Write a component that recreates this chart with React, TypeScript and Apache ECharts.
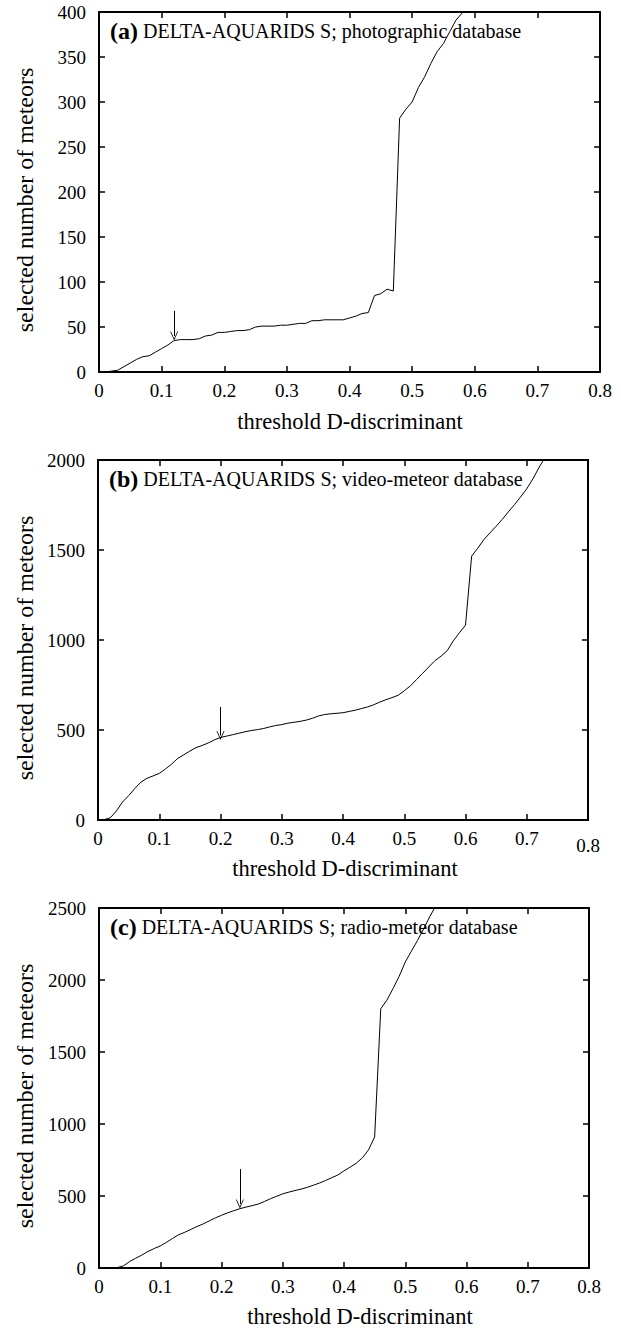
import React, { useEffect, useRef } from "react";
import * as echarts from "echarts";

// ---------- data ----------
const dA = [0, 0.01, 0.02, 0.03, 0.04, 0.05, 0.06, 0.07, 0.08, 0.09, 0.1, 0.11, 0.12, 0.13, 0.14, 0.15, 0.16, 0.17, 0.18, 0.19, 0.2, 0.21, 0.22, 0.23, 0.24, 0.25, 0.26, 0.27, 0.28, 0.29, 0.3, 0.31, 0.32, 0.33, 0.34, 0.35, 0.36, 0.37, 0.38, 0.39, 0.4, 0.41, 0.42, 0.43, 0.44, 0.45, 0.46, 0.47, 0.48, 0.49, 0.5, 0.51, 0.52, 0.53, 0.54, 0.55, 0.56, 0.57, 0.58, 0.59];
const nA = [0, 0, 1, 2, 6, 10, 14, 17, 18, 22, 26, 30, 35, 36, 36, 36, 37, 40, 41, 44, 44, 45, 46, 46, 47, 50, 51, 51, 51, 52, 52, 53, 54, 54, 57, 57, 58, 58, 58, 58, 60, 62, 65, 66, 85, 87, 92, 90, 282, 292, 300, 316, 328, 343, 356, 365, 378, 391, 399, 412];

const dB = [0, 0.01, 0.02, 0.03, 0.04, 0.05, 0.06, 0.07, 0.08, 0.09, 0.1, 0.11, 0.12, 0.13, 0.14, 0.15, 0.16, 0.17, 0.18, 0.19, 0.2, 0.21, 0.22, 0.23, 0.24, 0.25, 0.26, 0.27, 0.28, 0.29, 0.3, 0.31, 0.32, 0.33, 0.34, 0.35, 0.36, 0.37, 0.38, 0.39, 0.4, 0.41, 0.42, 0.43, 0.44, 0.45, 0.46, 0.47, 0.48, 0.49, 0.5, 0.51, 0.52, 0.53, 0.54, 0.55, 0.56, 0.57, 0.58, 0.59, 0.6, 0.61, 0.62, 0.63, 0.64, 0.65, 0.66, 0.67, 0.68, 0.69, 0.7, 0.71, 0.72, 0.73];
const nB = [0, 2, 12, 50, 100, 135, 175, 210, 232, 245, 259, 283, 310, 342, 362, 383, 402, 414, 428, 445, 459, 466, 474, 482, 490, 497, 502, 508, 517, 525, 530, 538, 543, 548, 555, 565, 578, 586, 590, 593, 596, 603, 610, 619, 628, 640, 655, 668, 680, 693, 718, 745, 780, 815, 850, 885, 910, 940, 995, 1040, 1082, 1466, 1510, 1558, 1595, 1632, 1670, 1712, 1752, 1795, 1840, 1895, 1958, 2015];

const dC = [0, 0.01, 0.02, 0.03, 0.04, 0.05, 0.06, 0.07, 0.08, 0.09, 0.1, 0.11, 0.12, 0.13, 0.14, 0.15, 0.16, 0.17, 0.18, 0.19, 0.2, 0.21, 0.22, 0.23, 0.24, 0.25, 0.26, 0.27, 0.28, 0.29, 0.3, 0.31, 0.32, 0.33, 0.34, 0.35, 0.36, 0.37, 0.38, 0.39, 0.4, 0.41, 0.42, 0.43, 0.44, 0.45, 0.46, 0.47, 0.48, 0.49, 0.5, 0.51, 0.52, 0.53, 0.54, 0.55];
const nC = [0, 0, 0, 3, 15, 45, 68, 90, 115, 135, 153, 178, 205, 231, 248, 268, 288, 306, 327, 348, 366, 383, 398, 412, 423, 433, 444, 462, 481, 498, 515, 527, 538, 548, 560, 575, 590, 608, 627, 646, 675, 700, 728, 765, 820, 910, 1800, 1860, 1940, 2025, 2125, 2200, 2275, 2355, 2440, 2515];

const panelTags = ["(a)", "(b)", "(c)"];
const panelTitles = [
  "DELTA-AQUARIDS S; photographic database",
  "DELTA-AQUARIDS S; video-meteor database",
  "DELTA-AQUARIDS S; radio-meteor database",
];
const yMax = [400, 2000, 2500];
const yStep = [50, 500, 500];
const xMax = 0.8;
const xStep = 0.1;

// arrows: x position, top value, tip value
const arrowX = [0.12, 0.2, 0.23];
const arrowTop = [68, 628, 687];
const arrowTip = [40, 470, 445];

const xName = "threshold D-discriminant";
const yName = "selected number of meteors";

// ---------- layout ----------
const FONT = "'Liberation Serif', 'Times New Roman', serif";
const grids = [
  { left: 99, top: 12, width: 501, height: 360 },
  { left: 98, top: 460, width: 490, height: 360 },
  { left: 99, top: 908, width: 490, height: 360 },
];
const xNamePos = [
  [350, 421],
  [345, 868],
  [360, 1316],
];

export default function App() {
  const ref = useRef<HTMLDivElement>(null);
  useEffect(() => {
    if (!ref.current) return;
    const chart = echarts.init(ref.current, null, { renderer: "svg" });
    const series: any[] = [];
    const xAxes: any[] = [];
    const yAxes: any[] = [];
    const graphics: any[] = [];
    const datas = [
      dA.map((d, i) => [d, nA[i]]),
      dB.map((d, i) => [d, nB[i]]),
      dC.map((d, i) => [d, nC[i]]),
    ];
    const axisLine = { show: true, onZero: false, lineStyle: { color: "#000", width: 2 } };
    const tick = { show: true, inside: true, length: 6, lineStyle: { color: "#000", width: 1.5 } };
    grids.forEach((g, i) => {
      xAxes.push({
        type: "value",
        gridIndex: i,
        min: 0,
        max: xMax,
        interval: xStep,
        position: "bottom",
        axisLine,
        axisTick: tick,
        splitLine: { show: false },
        axisLabel: {
          color: "#000",
          fontFamily: FONT,
          fontSize: 19,
          margin: 9,
          formatter: (v: number) => {
            const s = String(Math.round(v * 10) / 10);
            if (i === 1 && Math.abs(v - 0.8) < 1e-6) return "{lo|" + s + "}";
            return s;
          },
          rich: { lo: { padding: [7, 0, 0, 0], fontFamily: FONT, fontSize: 19, color: "#000" } },
        },
      });
      xAxes.push({
        type: "value",
        gridIndex: i,
        min: 0,
        max: xMax,
        interval: xStep,
        position: "top",
        axisLine,
        axisTick: tick,
        splitLine: { show: false },
        axisLabel: { show: false },
      });
      yAxes.push({
        type: "value",
        gridIndex: i,
        min: 0,
        max: yMax[i],
        interval: yStep[i],
        position: "left",
        axisLine,
        axisTick: tick,
        splitLine: { show: false },
        axisLabel: {
          color: "#000",
          fontFamily: FONT,
          fontSize: 19,
          margin: 13,
          formatter: (v: number) => String(v),
        },
      });
      yAxes.push({
        type: "value",
        gridIndex: i,
        min: 0,
        max: yMax[i],
        interval: yStep[i],
        position: "right",
        axisLine,
        axisTick: tick,
        splitLine: { show: false },
        axisLabel: { show: false },
      });
      series.push({
        type: "line",
        xAxisIndex: i * 2,
        yAxisIndex: i * 2,
        data: datas[i],
        showSymbol: false,
        symbol: "none",
        clip: true,
        lineStyle: { color: "#000", width: 1 },
        silent: true,
        markLine: {
          silent: true,
          symbol: ["none", "path://M0,10 L5,0 L10,10 L9,10 L5,2.2 L1,10 Z"],
          symbolSize: [8, 9],
          label: { show: false },
          lineStyle: { color: "#000", width: 1, type: "solid" },
          data: [[{ coord: [arrowX[i], arrowTop[i]] }, { coord: [arrowX[i], arrowTip[i]] }]],
        },
      });
      graphics.push({
        type: "text",
        left: g.left + 11,
        top: g.top + 7,
        style: {
          text: "{b|" + panelTags[i] + "} " + panelTitles[i],
          font: `20px ${FONT}`,
          fill: "#000",
          rich: {
            b: { fontFamily: FONT, fontSize: 24, fontWeight: "bold", fill: "#000" },
          },
        },
      });
      graphics.push({
        type: "text",
        x: 25,
        y: g.top + g.height / 2 + 8,
        rotation: Math.PI / 2,
        style: {
          text: yName,
          font: `24px ${FONT}`,
          fill: "#000",
          align: "center",
          verticalAlign: "middle",
        },
      });
      graphics.push({
        type: "text",
        x: xNamePos[i][0],
        y: xNamePos[i][1],
        style: {
          text: xName,
          font: `22.5px ${FONT}`,
          fill: "#000",
          align: "center",
          verticalAlign: "middle",
        },
      });
    });
    chart.setOption({
      animation: false,
      backgroundColor: "#fff",
      grid: grids.map((g) => ({ ...g, containLabel: false, show: false })),
      xAxis: xAxes,
      yAxis: yAxes,
      series,
      graphic: graphics,
    });
    return () => chart.dispose();
  }, []);
  return (
    <div
      ref={ref}
      style={{ position: "absolute", left: 0, top: 0, width: 621, height: 1328, background: "#fff" }}
    />
  );
}
